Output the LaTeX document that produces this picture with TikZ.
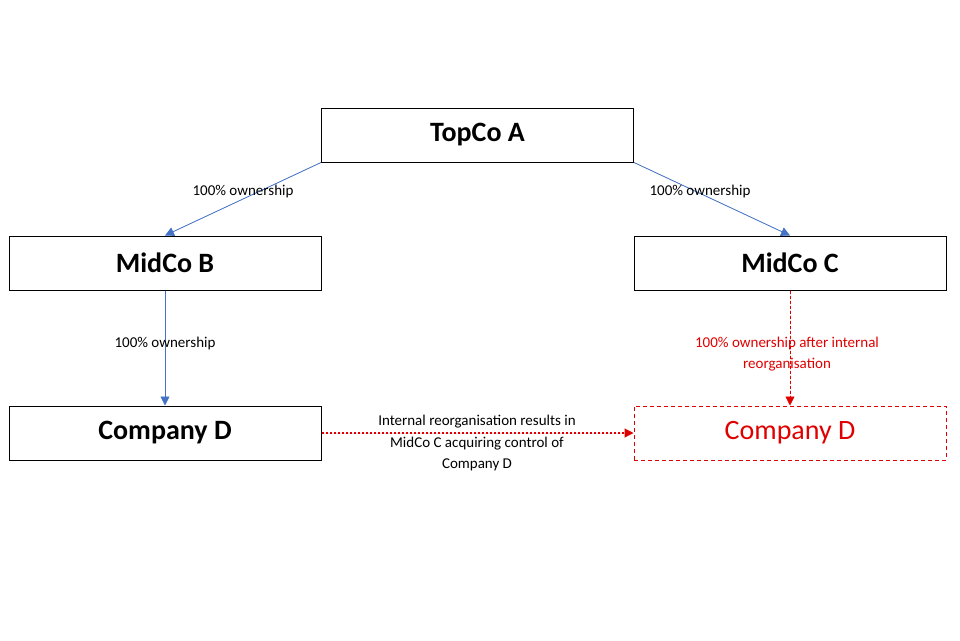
\documentclass[tikz,border=0pt]{standalone}
\usepackage{fontspec}
\setmainfont{Carlito}
\usetikzlibrary{arrows.meta}
\definecolor{bluearr}{HTML}{4472C4}
\definecolor{redd}{HTML}{E00000}
\tikzset{
  box/.style={draw=black, line width=1pt, minimum width=312pt, minimum height=54pt, inner sep=0pt, font=\fontsize{28}{32}\selectfont\bfseries},
  redbox/.style={draw=redd, dash pattern=on 4pt off 3pt, line width=1pt, minimum width=312pt, minimum height=54pt, inner sep=0pt, text=redd, font=\fontsize{28}{32}\selectfont},
  own/.style={-{Triangle[length=9pt,width=9pt]}, draw=bluearr, fill=bluearr, line width=0.8pt},
  lbl/.style={font=\fontsize{15}{21.5}\selectfont, inner sep=0pt, align=center},
}
\begin{document}
\begin{tikzpicture}[x=1pt,y=-1pt]
\useasboundingbox (0,0) rectangle (960,640);
\node[box] (top) at (477.5,135) {TopCo A};
\node[box] (b) at (165,263) {MidCo B};
\node[box] (c) at (790,263) {MidCo C};
\node[box] (d) at (165,433) {Company D};
\node[redbox] (d2) at (790,433) {Company D};
\draw[own] (top.south west) -- (b.north);
\draw[own] (top.south east) -- (c.north);
\draw[own] (b.south) -- (d.north);
\draw[-{Triangle[length=9pt,width=9pt]}, draw=redd, fill=redd, dash pattern=on 3pt off 2pt, line width=0.8pt] (c.south) -- (d2.north);
\draw[-{Triangle[length=9pt,width=9pt]}, draw=redd, fill=redd, dash pattern=on 2pt off 2pt, line width=1.2pt] (d.east) -- (d2.west);
\node[lbl] (l1) at (243,191) {100\% ownership};
\node[lbl] (l2) at (700,191) {100\% ownership};
\node[lbl] (l3) at (165,343) {100\% ownership};
\node[lbl, text=redd] (l4) at (787,354) {100\% ownership after internal\\reorganisation};
\node[lbl] (l5) at (477,443) {Internal reorganisation results in\\MidCo C acquiring control of\\Company D};
\end{tikzpicture}
\end{document}
